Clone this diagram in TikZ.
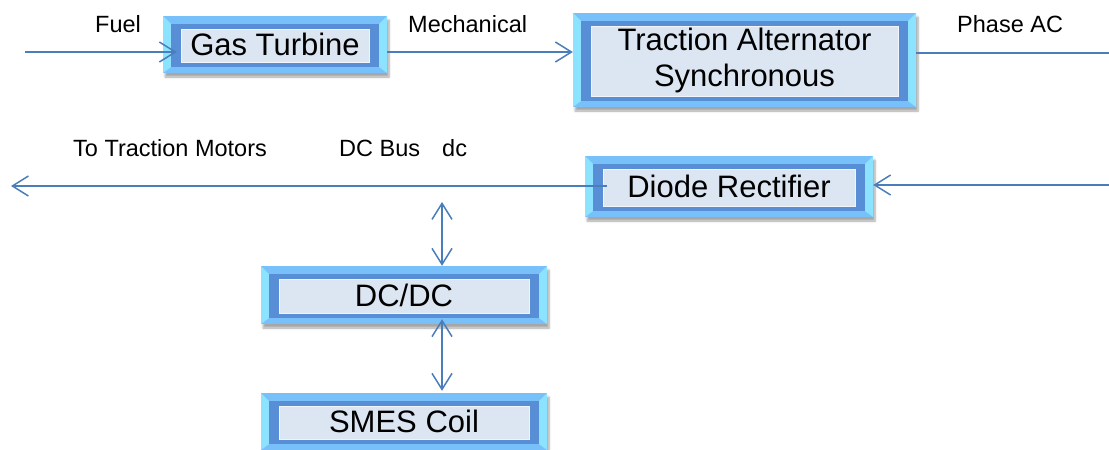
\documentclass[tikz,border=0pt]{standalone}
\usepackage{fontspec}
\setmainfont{Liberation Sans}
\usetikzlibrary{arrows.meta,shadows.blur,calc}
\definecolor{bevtop}{HTML}{78C0F9}
\definecolor{bevside}{HTML}{8CE3FF}
\definecolor{bevdark}{HTML}{588ED6}
\definecolor{bevfill}{HTML}{DCE6F2}
\definecolor{linec}{HTML}{4A7EBB}
\tikzset{
  bevbox/.style={rectangle, inner sep=0pt, fill=bevtop, align=center,
    font=\fontsize{31}{36}\selectfont,
    blur shadow={shadow xshift=2pt, shadow yshift=-4pt, shadow blur steps=6, shadow opacity=35},
    path picture={
      \path (path picture bounding box.north west) coordinate (pnw)
            (path picture bounding box.north east) coordinate (pne)
            (path picture bounding box.south west) coordinate (psw)
            (path picture bounding box.south east) coordinate (pse);
      \fill[bevside] (pnw) -- ([xshift=8pt,yshift=-8pt]pnw) -- ([xshift=8pt,yshift=6pt]psw) -- (psw) -- cycle;
      \fill[bevside] (pne) -- ([xshift=-8pt,yshift=-8pt]pne) -- ([xshift=-8pt,yshift=6pt]pse) -- (pse) -- cycle;
      \fill[bevdark] ([xshift=8pt,yshift=-8pt]pnw) rectangle ([xshift=-8pt,yshift=6pt]pse);
      \filldraw[fill=bevfill, draw=bevfill!40!white, line width=0.8pt] ([xshift=18pt,yshift=-13pt]pnw) rectangle ([xshift=-18pt,yshift=11pt]pse);
    }},
  lbl/.style={inner sep=0pt, anchor=base west, font=\fontsize{23.5}{28}\selectfont},
  conn/.style={draw=linec, line width=1.5pt},
  arr/.style={conn, -{Straight Barb[length=16pt,width=20pt]}},
  darr/.style={conn, {Straight Barb[length=16pt,width=20pt]}-{Straight Barb[length=16pt,width=20pt]}},
}
\begin{document}
\begin{tikzpicture}[x=1pt,y=-1pt]
% boxes
\node[bevbox, minimum width=224pt, minimum height=57pt] (gt) at (275,44.5) {Gas Turbine};
\node[bevbox, minimum width=343pt, minimum height=94pt] (alt) at (744.5,60) {Traction Alternator\\Synchronous};
\node[bevbox, minimum width=288pt, minimum height=61pt] (dr) at (729,186.5) {Diode Rectifier};
\node[bevbox, minimum width=286pt, minimum height=58pt] (dcdc) at (404,295) {DC/DC};
\node[bevbox, minimum width=286pt, minimum height=57pt] (smes) at (404,421.5) {SMES Coil};
% labels
\node[lbl] (lfuel) at (95,32) {Fuel};
\node[lbl] (lmech) at (408,32) {Mechanical};
\node[lbl] (lac) at (957,32) {Phase AC};
\node[lbl] (ltm) at (73,156) {To Traction Motors};
\node[lbl] (lbus) at (339,156) {DC Bus};
\node[lbl] (ldc) at (442,156) {dc};
% free ends
\coordinate (fuelin) at (25,52);
\coordinate (acout) at (1109,53);
\coordinate (acin) at (1109,185);
\coordinate (tm) at (11,186);
\coordinate (busj) at (442,202);
% connectors
\draw[arr] (fuelin) -- ($(gt.west |- fuelin)+(14pt,0)$);
\draw[arr] (gt.east |- fuelin) -- (alt.west |- fuelin);
\draw[conn] (alt.east |- acout) -- (acout);
\draw[arr] (acin) -- (dr.east |- acin);
\draw[arr] ($(dr.west |- tm)+(22pt,0)$) -- (tm);
\draw[darr] (busj) -- (dcdc.north -| busj);
\draw[darr] ($(dcdc.south -| busj)+(0,5pt)$) -- ($(smes.north -| busj)+(0,2pt)$);
\pgfresetboundingbox
\useasboundingbox (0,0) rectangle (1109,450);
\end{tikzpicture}
\end{document}
